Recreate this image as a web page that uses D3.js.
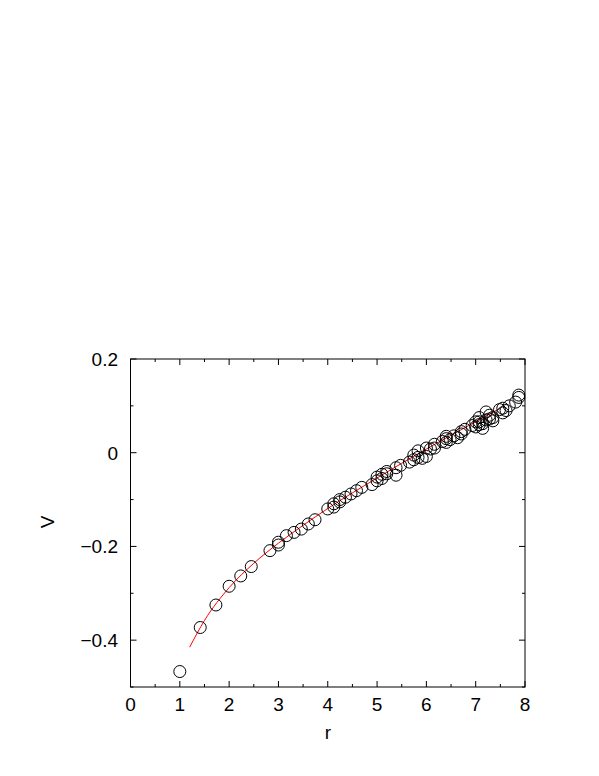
<!DOCTYPE html>
<html>
<head>
<meta charset="utf-8">
<style>
  body { margin: 0; background: #fff; }
  text { font-family: "Liberation Sans", Arial, sans-serif; }
</style>
</head>
<body>

<script src="https://d3js.org/d3.v7.min.js"></script>

<script>

const width = 599;
const height = 776;

// measured points (r, V)
const rVals = [
  1.000, 1.414, 1.732, 2.000, 2.236, 2.449, 2.828, 3.000, 3.000, 3.162,
  3.317, 3.464, 3.606, 3.742, 4.000, 4.123, 4.123, 4.243, 4.243, 4.359,
  4.472, 4.583, 4.690, 4.899, 5.000, 5.000, 5.099, 5.099, 5.196, 5.196,
  5.385, 5.385, 5.477, 5.657, 5.745, 5.745, 5.831, 5.831, 5.916, 6.000,
  6.000, 6.083, 6.164, 6.164, 6.325, 6.403, 6.403, 6.403, 6.481, 6.557,
  6.633, 6.708, 6.708, 6.782, 6.928, 7.000, 7.000, 7.071, 7.071, 7.071,
  7.141, 7.141, 7.211, 7.211, 7.280, 7.280, 7.348, 7.348, 7.483, 7.550,
  7.550, 7.616, 7.681, 7.810, 7.874, 7.874
];
const vVals = [
  -0.467, -0.373, -0.325, -0.285, -0.263, -0.243, -0.209, -0.191, -0.197, -0.177,
  -0.170, -0.163, -0.152, -0.143, -0.120, -0.116, -0.109, -0.105, -0.100, -0.095,
  -0.088, -0.081, -0.074, -0.068, -0.060, -0.052, -0.055, -0.046, -0.045, -0.040,
  -0.032, -0.048, -0.027, -0.020, -0.005, -0.015, -0.010, 0.004, -0.012, -0.008,
  0.010, 0.008, 0.018, 0.010, 0.024, 0.030, 0.022, 0.035, 0.028, 0.036,
  0.032, 0.045, 0.040, 0.050, 0.058, 0.066, 0.055, 0.075, 0.060, 0.066,
  0.062, 0.052, 0.087, 0.070, 0.080, 0.072, 0.075, 0.068, 0.092, 0.095,
  0.085, 0.090, 0.100, 0.108, 0.118, 0.123
];

// fitted curve
const fitR = [1.2, 1.5, 2.0, 2.5, 3.0, 3.5, 4.0, 5.0, 6.0, 7.0, 7.5];
const fitV = [-0.415, -0.358, -0.288, -0.236, -0.193, -0.155, -0.119, -0.054, 0.008, 0.066, 0.095];

const xTicks = [0, 1, 2, 3, 4, 5, 6, 7, 8];
const yTicks = [-0.4, -0.2, 0, 0.2];

const svg = d3.select('body')
              .append('svg')
              .attr('width', width)
              .attr('height', height);

const pLeft = 130.5, pRight = 525, pTop = 359, pBottom = 687;

const x = d3.scaleLinear().domain([0, 8]).range([pLeft, pRight]);
const y = d3.scaleLinear().domain([-0.5, 0.2]).range([pBottom, pTop]);

const minorX = d3.range(0, 8.01, 0.5);
const minorY = d3.range(-0.5, 0.21, 0.1);

const fmt = d => d === 0 ? '0' : (d < 0 ? '\u2212' : '') + Math.abs(d).toFixed(1);

// ticks, pointing inward on all four sides
const ticks = svg.append('g').attr('stroke', '#000').attr('stroke-width', 1);
minorX.forEach(v => {
  const major = Math.abs(v - Math.round(v)) < 1e-6;
  const len = major ? 6 : 3;
  ticks.append('line').attr('x1', x(v)).attr('x2', x(v)).attr('y1', pBottom).attr('y2', pBottom - len);
  ticks.append('line').attr('x1', x(v)).attr('x2', x(v)).attr('y1', pTop).attr('y2', pTop + len);
});
minorY.forEach(v => {
  const major = Math.abs(v * 5 - Math.round(v * 5)) < 1e-6;
  const len = major ? 6 : 3;
  ticks.append('line').attr('y1', y(v)).attr('y2', y(v)).attr('x1', pLeft).attr('x2', pLeft + len);
  ticks.append('line').attr('y1', y(v)).attr('y2', y(v)).attr('x1', pRight).attr('x2', pRight - len);
});

// frame
svg.append('rect')
  .attr('x', pLeft).attr('y', pTop)
  .attr('width', pRight - pLeft).attr('height', pBottom - pTop)
  .attr('fill', 'none').attr('stroke', '#000').attr('stroke-width', 1);

// tick labels
svg.append('g').selectAll('text')
  .data(xTicks)
  .enter()
  .append('text')
    .attr('x', d => x(d))
    .attr('y', 711)
    .attr('text-anchor', 'middle')
    .attr('font-size', 19)
    .text(d => d);

svg.append('g').selectAll('text')
  .data(yTicks)
  .enter()
  .append('text')
    .attr('x', 118)
    .attr('y', d => y(d) + 7)
    .attr('text-anchor', 'end')
    .attr('font-size', 19)
    .text(fmt);

// axis titles
svg.append('text')
  .attr('x', 328).attr('y', 739)
  .attr('text-anchor', 'middle')
  .attr('font-size', 19)
  .text('r');

svg.append('text')
  .attr('transform', 'translate(54,522) rotate(-90)')
  .attr('text-anchor', 'middle')
  .attr('font-size', 19)
  .text('V');

// fit line
const line = d3.line()
  .x((d, i) => x(fitR[i]))
  .y((d, i) => y(fitV[i]))
  .curve(d3.curveMonotoneX);

svg.append('path')
  .attr('d', line(fitR))
  .attr('fill', 'none')
  .attr('stroke', '#ff0000')
  .attr('stroke-width', 1);

// data points
svg.append('g').selectAll('circle')
  .data(rVals)
  .enter()
  .append('circle')
    .attr('cx', d => x(d))
    .attr('cy', (d, i) => y(vVals[i]))
    .attr('r', 6)
    .attr('fill', 'none')
    .attr('stroke', '#000')
    .attr('stroke-width', 1);

</script>
</body>
</html>
